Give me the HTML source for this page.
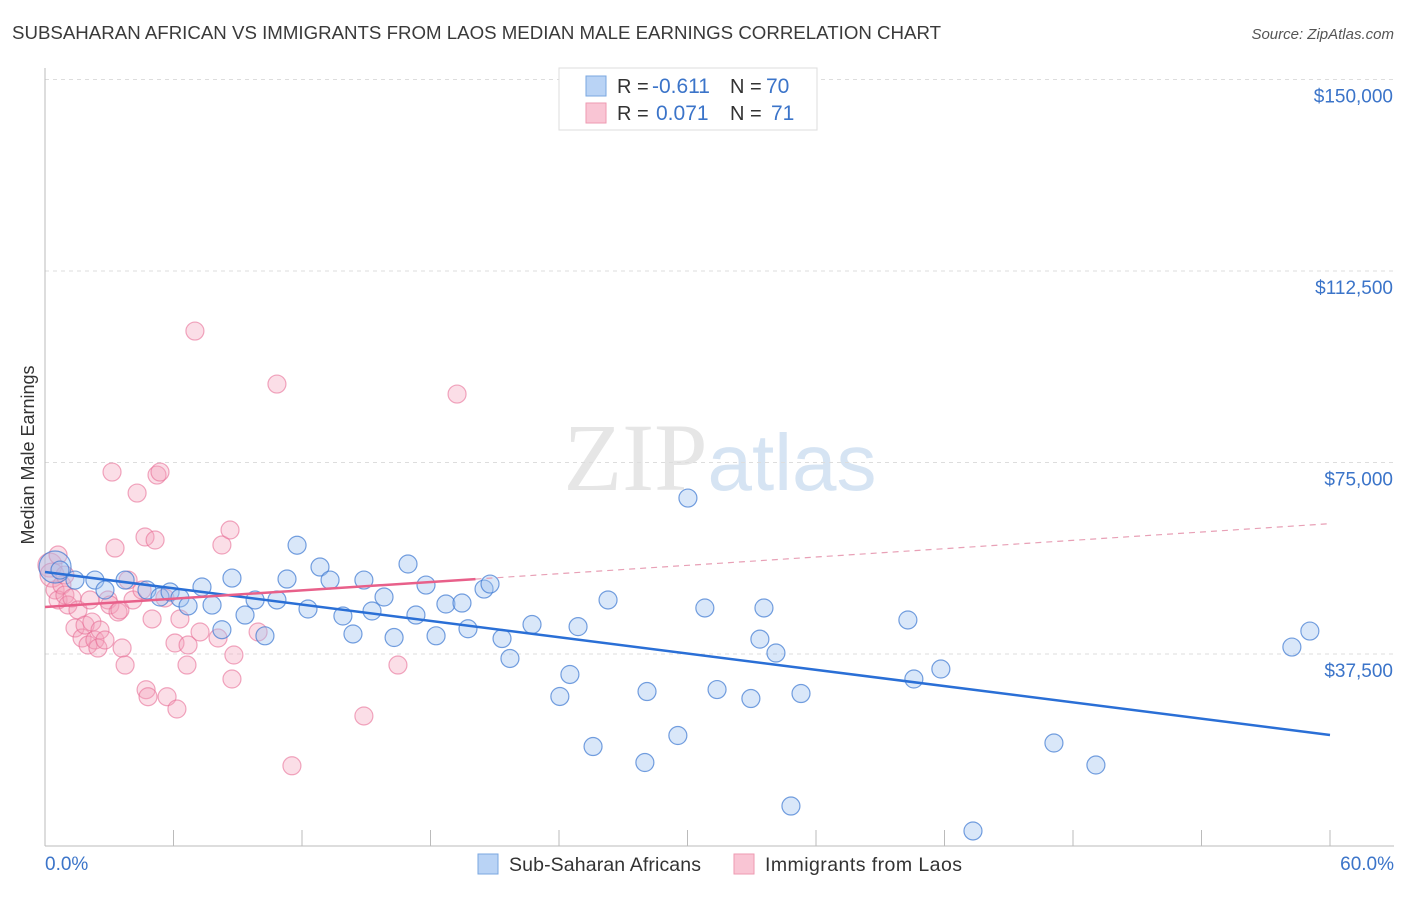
<!DOCTYPE html>
<html><head><meta charset="utf-8"><style>
body{margin:0;background:#fff;font-family:"Liberation Sans",sans-serif}
svg text{font-family:"Liberation Sans",sans-serif}
</style></head><body>
<svg id="chart" width="1406" height="892" viewBox="0 0 1406 892" xmlns="http://www.w3.org/2000/svg">
<text x="12" y="39" font-size="18" fill="#3a3a3a" textLength="929" lengthAdjust="spacingAndGlyphs">SUBSAHARAN AFRICAN VS IMMIGRANTS FROM LAOS MEDIAN MALE EARNINGS CORRELATION CHART</text>
<text x="1394" y="39" font-size="15" fill="#555" text-anchor="end" font-style="italic">Source: ZipAtlas.com</text>
<text x="720" y="490" font-size="96" text-anchor="middle" fill="#e6e6e6"><tspan font-family="Liberation Serif">ZIP</tspan><tspan fill="#d6e4f3" font-size="80">atlas</tspan></text>
<g id="grid"></g>
<g id="axes"></g>
<g id="pts"></g>
<g id="lines"></g>
<text transform="translate(34,455) rotate(-90)" font-size="18" fill="#333" text-anchor="middle">Median Male Earnings</text>
<text x="45" y="870" font-size="19" fill="#3b74c9">0.0%</text>
<text x="1394" y="870" font-size="19" fill="#3b74c9" text-anchor="end">60.0%</text>
<g>
<rect x="559" y="68" width="258" height="62" fill="#fff" stroke="#ddd"/>
<rect x="586" y="76" width="20" height="20" fill="#b9d3f5" stroke="#7aa7e0"/>
<rect x="586" y="103" width="20" height="20" fill="#f9c5d4" stroke="#ee9ab2"/>
<text x="617" y="93" font-size="20" fill="#333">R =</text>
<text x="652" y="93" font-size="21" fill="#3b74c9">-0.611</text>
<text x="730" y="93" font-size="20" fill="#333">N =</text>
<text x="766" y="93" font-size="21" fill="#3b74c9">70</text>
<text x="617" y="120" font-size="20" fill="#333">R =</text>
<text x="656" y="120" font-size="21" fill="#3b74c9">0.071</text>
<text x="730" y="120" font-size="20" fill="#333">N =</text>
<text x="771" y="120" font-size="21" fill="#3b74c9">71</text>
</g>
<g>
<rect x="478" y="854" width="20" height="20" fill="#b9d3f5" stroke="#7aa7e0"/>
<text x="509" y="871" font-size="19.5" fill="#333" textLength="192">Sub-Saharan Africans</text>
<rect x="734" y="854" width="20" height="20" fill="#f9c5d4" stroke="#ee9ab2"/>
<text x="765" y="871" font-size="19.5" fill="#333" textLength="197">Immigrants from Laos</text>
</g>
</svg>
<script>
const yTicks=[37500,75000,112500,150000];
const yTickLabels=["$37,500","$75,000","$112,500","$150,000"];
const xTicks=[0,6,12,18,24,30,36,42,48,54,60];
const blueX=[0.47,0.70,1.40,2.33,2.80,3.74,4.76,5.37,5.84,6.30,6.68,7.33,7.80,8.26,8.73,9.34,9.81,10.27,10.83,11.30,11.77,12.28,12.84,13.31,13.91,14.38,14.89,15.27,15.83,16.30,16.95,17.32,17.79,18.26,18.72,19.47,19.75,20.50,20.78,21.34,21.71,22.74,24.04,24.51,24.89,25.59,26.29,28.01,28.11,29.55,30.02,30.81,31.38,32.96,33.38,33.57,34.13,34.83,35.30,40.29,40.57,41.83,43.33,47.11,49.07,58.22,59.06];
const blueY=[54530,53940,51980,51980,50030,51980,50030,48660,49640,48470,46900,50620,47080,42250,52370,45130,48080,41060,48080,52180,58800,46310,54530,51980,44940,41420,51980,45920,48660,40730,55120,45130,51000,41060,47290,47480,42440,50220,51200,40530,36620,43270,29180,33490,42860,19380,48080,16250,30150,21540,68040,46510,30540,28780,40410,46510,37690,7730,29760,44160,32600,34560,2840,20070,15760,38860,41990];
const pinkX=[0.23,0.33,0.47,0.61,0.79,0.93,1.07,1.26,1.40,1.54,1.73,1.87,2.01,2.19,2.33,2.47,2.57,2.80,2.94,3.03,3.13,3.27,3.41,3.50,3.60,3.74,3.88,4.11,4.30,4.53,4.67,4.72,4.81,5.00,5.14,5.23,5.37,5.60,5.70,6.07,6.16,6.30,6.63,6.68,7.00,7.24,8.08,8.26,8.64,8.73,8.82,9.95,10.83,11.53,14.89,16.48,19.24,0.93,2.10,0.61];
const pinkY=[54920,52960,50030,48080,51000,49050,47100,48470,42590,46120,40630,43160,39260,43750,40240,38670,42200,40240,48080,47100,73130,58250,45720,46120,38670,35340,51980,48080,69020,50030,60410,30500,29130,44360,59820,72540,73130,48470,29130,39650,26730,44360,35340,39260,100740,41810,40630,58840,61780,32600,37300,41810,90360,15610,25360,35340,88400,52960,48080,56880];
const blueTrend=[53550,21640];
const pinkTrend=[46700,63020];
const pinkSolidEnd=20.1;
const sx=v=>45+v/60*1285;
const sy=v=>845.5-v/37500*191.5;
const NS="http://www.w3.org/2000/svg";
function mk(tag,attrs,parent){const e=document.createElementNS(NS,tag);for(const k in attrs)e.setAttribute(k,attrs[k]);document.getElementById(parent).appendChild(e);return e;}
const ax=mk('line',{x1:45,y1:68,x2:45,y2:846,stroke:'#bbb'},'axes');


const bx=mk('line',{x1:45,y1:846,x2:1394,y2:846,stroke:'#bbb'},'axes');


xTicks.forEach(t=>{const l=mk('line',{x1:sx(t),y1:830,x2:sx(t),y2:846,stroke:'#bbb'},'axes');

});
yTicks.forEach((t,i)=>{const g=mk('line',{x1:45,y1:sy(t),x2:1394,y2:sy(t),stroke:'#ddd','stroke-dasharray':'4,4'},'grid');


const tx=mk('text',{x:1393,y:sy(t)+23,'font-size':19,fill:'#3b74c9','text-anchor':'end'},'grid');


tx.textContent=yTickLabels[i];});
pinkX.forEach((x,i)=>{const c=mk('circle',{cx:sx(x),cy:sy(pinkY[i]),r:i<2?12:9,fill:'rgba(244,160,186,0.35)',stroke:'rgba(232,110,150,0.6)','stroke-width':1.2},'pts');

});
blueX.forEach((x,i)=>{const c=mk('circle',{cx:sx(x),cy:sy(blueY[i]),r:i<1?16:9,fill:'rgba(160,196,240,0.4)',stroke:'rgba(60,120,210,0.7)','stroke-width':1.2},'pts');

});
const bl=mk('line',{x1:sx(0),y1:sy(blueTrend[0]),x2:sx(60),y2:sy(blueTrend[1]),stroke:'#2a6fd6','stroke-width':2.5},'lines');


const pAt=x=>pinkTrend[0]+(pinkTrend[1]-pinkTrend[0])*x/60;
const pl=mk('line',{x1:sx(0),y1:sy(pinkTrend[0]),x2:sx(pinkSolidEnd),y2:sy(pAt(pinkSolidEnd)),stroke:'#e8608a','stroke-width':2.5},'lines');


const pd=mk('line',{x1:sx(pinkSolidEnd),y1:sy(pAt(pinkSolidEnd)),x2:sx(60),y2:sy(pinkTrend[1]),stroke:'#e8a0b6','stroke-width':1.2,'stroke-dasharray':'6,5'},'lines');


</script>
</body></html>
